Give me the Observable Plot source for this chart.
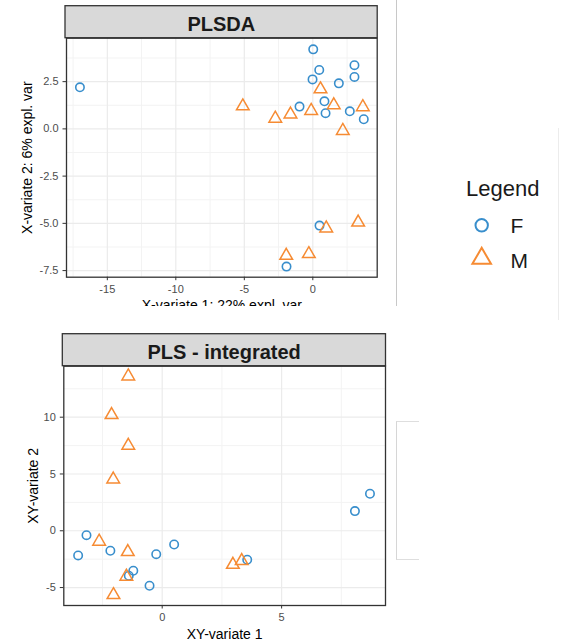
<!DOCTYPE html>
<html>
<head>
<meta charset="utf-8">
<script src="https://cdn.jsdelivr.net/npm/d3@7"></script>
<script src="https://cdn.jsdelivr.net/npm/@observablehq/plot@0.6"></script>
<style>
  html, body { margin: 0; padding: 0; background: #fff; }
  #page { position: relative; width: 561px; height: 644px; overflow: hidden; font-family: "Liberation Sans", Arial, sans-serif; }
  #top { position: absolute; left: 0; top: 0; width: 397px; height: 306px; overflow: hidden; }
  #bottom { position: absolute; left: 0; top: 320px; width: 397px; height: 324px; overflow: hidden; }
  #pane-line { position: absolute; left: 396px; top: 0; width: 1px; height: 306px; background: #c8c8c8; }
  #pane-line2 { position: absolute; left: 558px; top: 128px; width: 1px; height: 192px; background: #ececec; }
  #legend-box { position: absolute; left: 396px; top: 421px; width: 22px; height: 137px; border: 1px solid #dedede; border-right: none; border-left: 1.5px solid #d6d6d6; }
  #legend { position: absolute; left: 450px; top: 165px; }
</style>
</head>
<body>
<div id="page">
  <div id="top"></div>
  <div id="pane-line"></div>
  <div id="pane-line2"></div>
  <div id="legend"></div>
  <div id="bottom"></div>
  <div id="legend-box"></div>
</div>
<script>
// ---- PLSDA scores (X-variate 1 / X-variate 2) ----
const plsdaFx = [-17.0, 0.03, 0.47, -0.02, 3.04, 3.04, 1.9, 0.85, 0.93, -0.97, 2.7, 3.72, 0.49, -1.92];
const plsdaFy = [2.2, 4.21, 3.12, 2.62, 3.37, 2.75, 2.41, 1.46, 0.83, 1.18, 0.93, 0.51, -5.12, -7.29];
const plsdaMx = [-5.11, -2.74, -1.63, -0.12, 0.56, 1.53, 3.65, 2.19, 0.98, 3.31, -1.94, -0.29];
const plsdaMy = [1.2, 0.55, 0.77, 0.96, 2.1, 1.26, 1.16, -0.1, -5.26, -4.95, -6.71, -6.62];

// ---- PLS integrated scores (XY-variate 1 / XY-variate 2) ----
const plsFx = [-3.52, -3.17, -2.17, -1.21, -1.4, -0.53, -0.25, 0.5, 3.56, 8.07, 8.7];
const plsFy = [-2.17, -0.39, -1.76, -3.52, -3.96, -4.84, -2.06, -1.21, -2.55, 1.73, 3.26];
const plsMx = [-1.42, -2.12, -1.42, -2.05, -2.64, -1.44, -1.5, -2.04, 2.96, 3.33];
const plsMy = [13.6, 10.2, 7.5, 4.53, -0.95, -1.86, -4.03, -5.65, -2.98, -2.65];

// ---- axis ticks ----
const plsdaXTicks = [-15, -10, -5, 0];
const plsdaXMinor = [-17.5, -12.5, -7.5, -2.5, 2.5];
const plsdaYTicks = [2.5, 0, -2.5, -5, -7.5];
const plsdaYMinor = [3.75, 1.25, -1.25, -3.75, -6.25];
const plsXTicks = [0, 5];
const plsXMinor = [-2.5, 2.5, 7.5];
const plsYTicks = [10, 5, 0, -5];
const plsYMinor = [12.5, 7.5, 2.5, -2.5];

const groups = ["F", "M"];
const groupColors = ["#388ECC", "#F68B33"];

const FONT = "Liberation Sans, Arial, sans-serif";

function rows(xs, ys, group) {
  return xs.map((x, i) => ({x, y: ys[i], group}));
}

// facet strip above the panel
function strip(title) {
  return (index, scales, values, dims) => {
    const g = d3.create("svg:g");
    const x0 = dims.marginLeft, x1 = dims.width - dims.marginRight, y1 = dims.marginTop;
    const h = 32;
    g.append("rect")
      .attr("x", x0 - 1).attr("y", y1 - h)
      .attr("width", x1 - x0 + 1.5).attr("height", h)
      .attr("fill", "#d9d9d9").attr("stroke", "#333").attr("stroke-width", 1.3);
    g.append("text")
      .attr("x", (x0 + x1) / 2).attr("y", y1 - 7.2)
      .attr("text-anchor", "middle")
      .attr("font-family", FONT).attr("font-size", 20).attr("font-weight", "bold")
      .attr("fill", "#1a1a1a")
      .text(title);
    return g.node();
  };
}

function panel({title, data, width, height, margins, xDomain, yDomain, xTicks, xMinor, yTicks, yMinor, yFormat, xLabel, yLabel, yLabelDx}) {
  return Plot.plot({
    width, height,
    marginLeft: margins[0], marginRight: margins[1], marginTop: margins[2], marginBottom: margins[3],
    style: {fontFamily: FONT, background: "white"},
    x: {domain: xDomain},
    y: {domain: yDomain},
    symbol: {domain: groups, range: ["circle", "triangle"]},
    color: {domain: groups, range: groupColors},
    marks: [
      Plot.ruleX(xMinor, {stroke: "#f3f3f3", strokeWidth: 1}),
      Plot.ruleY(yMinor, {stroke: "#f3f3f3", strokeWidth: 1}),
      Plot.ruleX(xTicks, {stroke: "#ebebeb", strokeWidth: 1.2}),
      Plot.ruleY(yTicks, {stroke: "#ebebeb", strokeWidth: 1.2}),
      Plot.dot(data.filter(d => d.group === "F"), {x: "x", y: "y", symbol: "group", stroke: "group", r: 4.2, strokeWidth: 1.6, fill: "none"}),
      Plot.dot(data.filter(d => d.group === "M"), {x: "x", y: "y", symbol: "group", stroke: "group", r: 4.7, strokeWidth: 1.5, fill: "none"}),
      Plot.frame({stroke: "#333", strokeWidth: 1.3}),
      Plot.axisX(xTicks, {tickSize: 3.5, tickPadding: 4.5, stroke: "#333", fill: "#4d4d4d", fontSize: 11, label: null, tickFormat: d => String(d)}),
      Plot.axisY(yTicks, {tickSize: 3.5, tickPadding: 4.5, stroke: "#333", fill: "#4d4d4d", fontSize: 11, label: null, tickFormat: yFormat}),
      Plot.text([xLabel], {frameAnchor: "bottom", text: d => d, dy: 33, lineAnchor: "bottom", textAnchor: "middle", fontSize: 14, fill: "black"}),
      Plot.text([yLabel], {frameAnchor: "left", text: d => d, dx: yLabelDx, rotate: -90, lineAnchor: "bottom", textAnchor: "middle", fontSize: 14, fill: "black"}),
      strip(title)
    ]
  });
}

const topData = [...rows(plsdaFx, plsdaFy, "F"), ...rows(plsdaMx, plsdaMy, "M")];
const botData = [...rows(plsFx, plsFy, "F"), ...rows(plsMx, plsMy, "M")];

document.getElementById("top").append(panel({
  title: "PLSDA",
  data: topData,
  width: 397, height: 320,
  margins: [66, 20.3, 37.7, 43.3],
  xDomain: [-17.98, 4.7], yDomain: [-7.85, 4.8],
  xTicks: plsdaXTicks, xMinor: plsdaXMinor, yTicks: plsdaYTicks, yMinor: plsdaYMinor,
  yFormat: d => d.toFixed(1),
  xLabel: "X-variate 1: 22% expl. var",
  yLabel: "X-variate 2: 6% expl. var",
  yLabelDx: -35
}));

document.getElementById("bottom").append(panel({
  title: "PLS - integrated",
  data: botData,
  width: 397, height: 324,
  margins: [63.3, 12, 45.7, 39],
  xDomain: [-4.12, 9.35], yDomain: [-6.58, 14.49],
  xTicks: plsXTicks, xMinor: plsXMinor, yTicks: plsYTicks, yMinor: plsYMinor,
  yFormat: d => String(d),
  xLabel: "XY-variate 1",
  yLabel: "XY-variate 2",
  yLabelDx: -25.5
}));

// legend: group symbols and names
(function legend() {
  const svg = d3.create("svg").attr("width", 110).attr("height", 115)
    .attr("font-family", FONT);
  svg.append("text").attr("x", 16).attr("y", 30.5).attr("font-size", 22).attr("fill", "#1a1a1a").text("Legend");
  const sym = {F: d3.symbol(d3.symbolCircle, Math.PI * 6.2 * 6.2), M: d3.symbol(d3.symbolTriangle, 150)};
  const yPos = [60.3, 93.5];
  groups.forEach((g, i) => {
    svg.append("path").attr("d", sym[g]()).attr("transform", `translate(31.7,${yPos[i]})`)
      .attr("fill", "none").attr("stroke", groupColors[i]).attr("stroke-width", 2);
    svg.append("text").attr("x", 60.5).attr("y", yPos[i] + (i === 0 ? 8 : 9)).attr("font-size", 21).attr("fill", "#1a1a1a").text(g);
  });
  document.getElementById("legend").append(svg.node());
})();
</script>
</body>
</html>
